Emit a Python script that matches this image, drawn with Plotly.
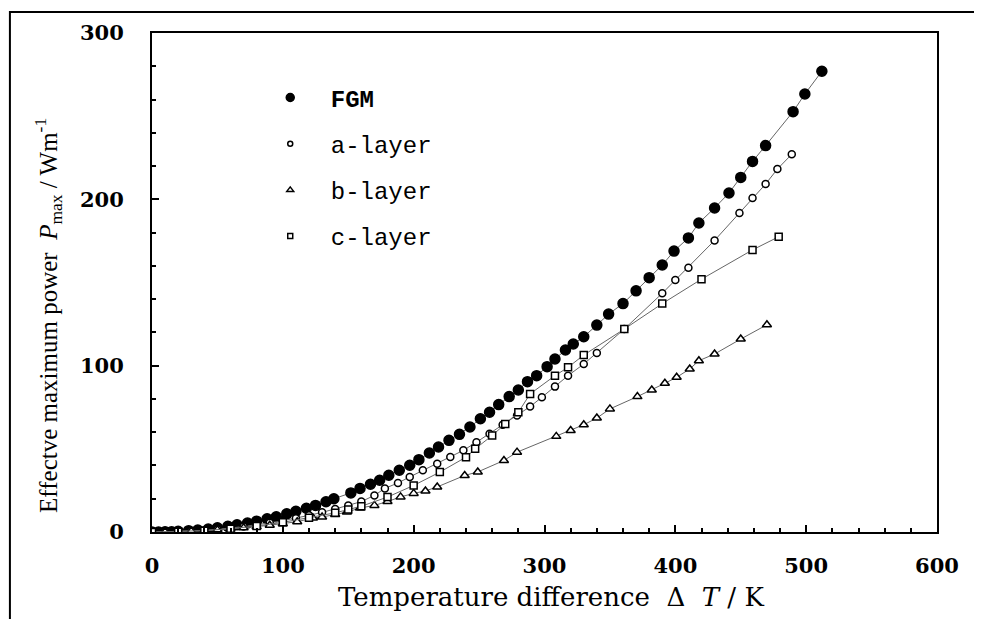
import plotly.graph_objects as go

# values (estimates)
fgm_x = [0, 5, 10, 15, 20, 28, 35, 43, 50, 58, 65, 73, 80, 88, 95, 103, 110, 118, 125, 133,
         139, 152, 159, 167, 174, 181, 189, 197, 204, 212, 219, 227, 235, 243, 251, 258, 265,
         273, 280, 287, 294, 302, 308, 316, 322, 330, 340, 349, 360, 370, 380, 390, 399, 410,
         418, 430, 441, 450, 459, 469, 490, 499, 512]
fgm_y = [0, 0.0, 0.1, 0.2, 0.4, 0.8, 1.2, 1.8, 2.5, 3.4, 4.3, 5.4, 6.5, 7.9, 9.2, 10.9, 12.4,
         14.3, 16.0, 18.2, 20.0, 23.5, 26.2, 28.7, 31.1, 34.1, 37.1, 40.1, 43.5, 47.5, 51.1,
         55.1, 58.7, 63.1, 68.1, 72.0, 76.6, 81.4, 85.4, 90.4, 94.0, 99.4, 104.0, 109.4, 113.0,
         117.4, 124.4, 131.0, 137.3, 145.0, 152.9, 160.5, 168.9, 176.8, 185.8, 194.8, 203.8,
         213.2, 222.8, 232.3, 252.7, 263.3, 277.0]

a_x = [0, 10, 20, 30, 40, 50, 60, 70, 80, 90, 100, 110, 120, 130, 140, 150, 160, 170, 178,
       188, 197, 207, 218, 228, 238, 248, 258, 268, 279, 289, 298, 308, 318, 330, 340, 361,
       390, 400, 410, 430, 449, 459, 469, 478, 489]
a_y = [0, 0.1, 0.3, 0.6, 1.0, 1.6, 2.4, 3.3, 4.3, 5.5, 6.8, 8.3, 10.0, 11.8, 13.8, 16.0, 18.3,
       22.0, 26.2, 29.5, 33.1, 37.1, 41.1, 45.1, 49.1, 54.0, 59.1, 64.5, 70.1, 75.4, 81.0,
       87.4, 94.0, 101.0, 107.6, 122.0, 143.5, 151.5, 158.9, 175.3, 191.8, 200.8, 209.2,
       218.2, 227.1]

b_x = [0, 10, 20, 30, 40, 50, 60, 70, 80, 90, 100, 111, 123, 130, 140, 149, 159, 170, 180,
       190, 200, 209, 218, 239, 249, 269, 279, 309, 320, 330, 340, 350, 371, 382, 392, 401,
       411, 418, 430, 450, 470]
b_y = [0, 0.1, 0.2, 0.5, 0.8, 1.3, 1.8, 2.5, 3.2, 4.1, 5.0, 6.2, 8.4, 9.0, 10.5, 12.0, 14.4,
       16.0, 18.3, 21.1, 23.2, 24.7, 27.1, 34.0, 36.1, 43.0, 48.0, 57.5, 61.0, 64.5, 68.5,
       74.0, 81.4, 85.4, 89.4, 93.0, 98.0, 103.0, 107.0, 116.0, 124.6]

c_x = [0, 20, 40, 60, 80, 100, 120, 140, 150, 160, 180, 200, 220, 240, 247, 260, 270, 280,
       289, 308, 318, 330, 361, 390, 420, 459, 479]
c_y = [0, 0.2, 0.8, 2.0, 3.6, 5.8, 8.5, 11.5, 13.5, 15.5, 21.0, 28.0, 36.0, 45.0, 50.0, 58.0,
       65.0, 72.0, 83.0, 94.0, 99.0, 106.4, 122.0, 137.3, 152.0, 169.6, 177.5]

series = [
    ("<b>FGM</b>", fgm_x, fgm_y, "circle", "black", 10),
    ("a-layer", a_x, a_y, "circle", "white", 7),
    ("b-layer", b_x, b_y, "triangle-up", "white", 8),
    ("c-layer", c_x, c_y, "square", "white", 7),
]

fig = go.Figure()
for name, xs, ys, sym, fill, sz in series:
    fig.add_trace(go.Scatter(
        x=xs, y=ys, mode="lines+markers", showlegend=False,
        line=dict(color="#666666", width=1),
        marker=dict(symbol=sym, size=sz, color=fill, line=dict(color="black", width=1.5)),
    ))
# legend entries (markers only)
for name, xs, ys, sym, fill, sz in series:
    fig.add_trace(go.Scatter(
        x=[None], y=[None], mode="markers", name=name, legendgroup=name,
        marker=dict(symbol=sym, size=sz - 2, color=fill, line=dict(color="black", width=1.5)),
    ))

fig.update_layout(
    width=982, height=619,
    margin=dict(l=144, r=53, t=23, b=95),
    paper_bgcolor="white", plot_bgcolor="white",
    font=dict(family="DejaVu Serif", color="black"),
    legend=dict(x=0.1245, y=0.915, xanchor="left", yanchor="top", tracegroupgap=12,
                itemwidth=71, bgcolor="rgba(0,0,0,0)",
                font=dict(family="Liberation Mono", size=24, color="black")),
    xaxis=dict(range=[0, 600], tickvals=[0, 100, 200, 300, 400, 500, 600],
               ticks="inside", ticklen=7, tickwidth=1.5, tickcolor="black",
               minor=dict(dtick=20, ticks="inside", ticklen=4, tickcolor="black"),
               showline=True, linecolor="black", linewidth=2, mirror=True,
               showgrid=False, zeroline=False, ticklabelstandoff=14,
               tickfont=dict(family="DejaVu Serif", size=21, weight="bold")),
    yaxis=dict(range=[0, 300], tickvals=[0, 100, 200, 300],
               ticks="inside", ticklen=7, tickwidth=1.5, tickcolor="black",
               minor=dict(dtick=20, ticks="inside", ticklen=4, tickcolor="black"),
               showline=True, linecolor="black", linewidth=2, mirror=True,
               showgrid=False, zeroline=False, ticklabelstandoff=22,
               tickfont=dict(family="DejaVu Serif", size=21, weight="bold")),
    annotations=[
        dict(text="Temperature difference  \u0394  <i>T</i> / K", xref="paper", yref="paper",
             x=0.508, y=-0.13, xanchor="center", yanchor="middle", showarrow=False,
             font=dict(family="DejaVu Serif", size=26)),
        dict(text="Effectve maximum power  <i>P</i><sub>max</sub> / Wm<sup>-1</sup>",
             xref="paper", yref="paper", x=-0.1325, y=0.435, textangle=-90,
             xanchor="center", yanchor="middle", showarrow=False,
             font=dict(family="Liberation Serif", size=25)),
    ],
    shapes=[
        dict(type="rect", xref="paper", yref="paper", x0=-0.181, x1=1.06, y0=-0.3, y1=1.042,
             line=dict(color="black", width=2)),
    ],
)

fig.write_html("out.html")
